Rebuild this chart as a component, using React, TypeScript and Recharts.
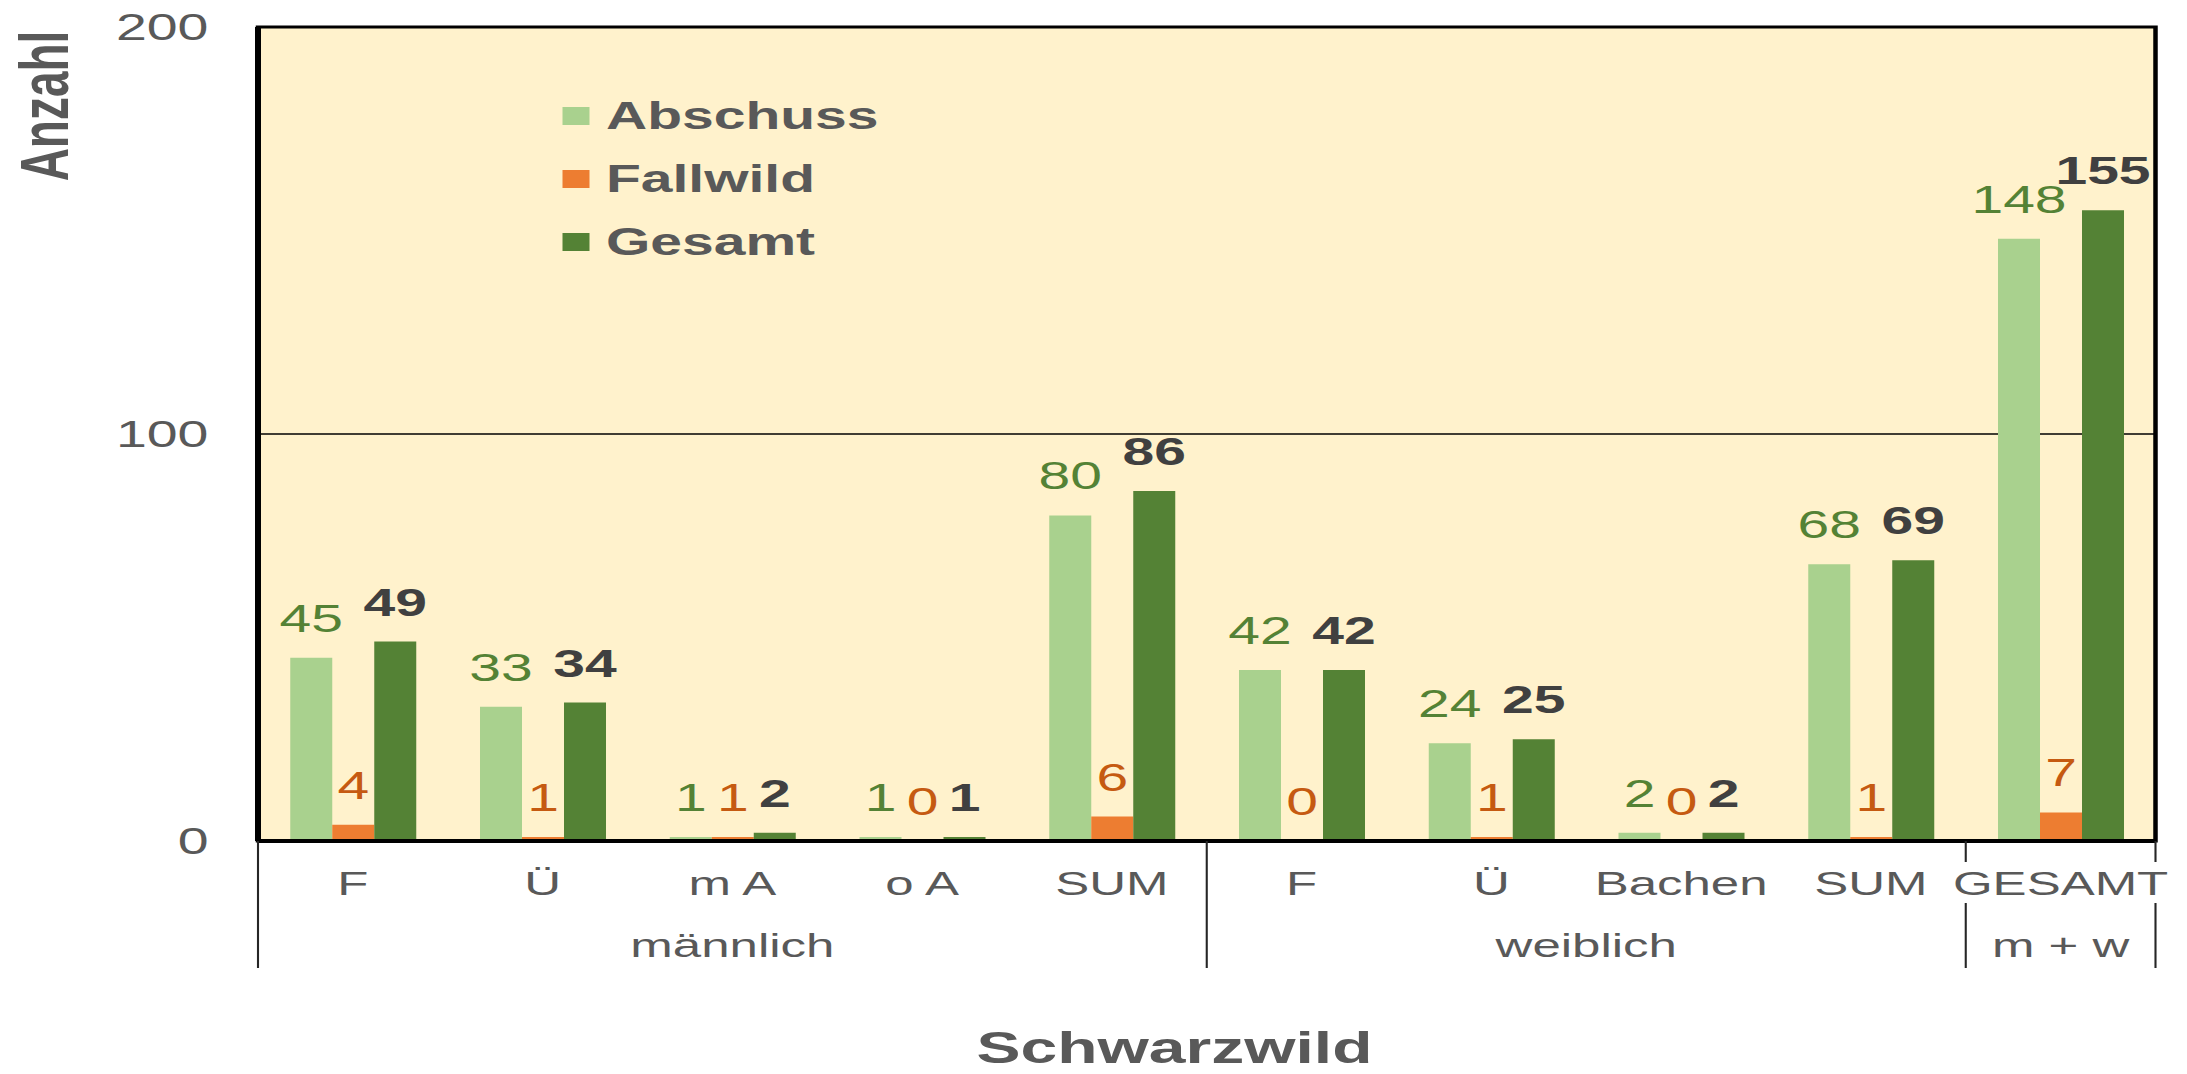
import React from 'react';
import { BarChart, Bar, XAxis, YAxis, CartesianGrid, ReferenceArea, LabelList, Legend, Label } from 'recharts';

const categories = ['F', 'Ü', 'm A', 'o A', 'SUM', 'F', 'Ü', 'Bachen', 'SUM', 'GESAMT'];
const abschuss = [45, 33, 1, 1, 80, 42, 24, 2, 68, 148];
const fallwild = [4, 1, 1, 0, 6, 0, 1, 0, 1, 7];
const gesamt = [49, 34, 2, 1, 86, 42, 25, 2, 69, 155];
const groupLabels = ['männlich', 'weiblich', 'm + w'];
const groupSizes = [5, 4, 1];
const yTicks = [0, 100, 200];
const seriesNames = ['Abschuss', 'Fallwild', 'Gesamt'];

const data = categories.map((c, i) => ({
  cat: c,
  abschuss: abschuss[i],
  fallwild: fallwild[i],
  gesamt: gesamt[i],
}));

const FONT = "'Liberation Sans', Arial, Helvetica, sans-serif";
const GREY = '#595959';
const STRETCH = 1.5;
const W = 1458;
const H = 1074;
const M = { top: 27, right: 21, left: 0, bottom: 0 };
const Y_AXIS_W = 172;
const X_AXIS_H = 233;
const PLOT_W = W - M.left - M.right - Y_AXIS_W;
const BAND = PLOT_W / categories.length;
const LABEL_OFFSET = 26;

const CatTick = (props: any) => {
  const { x, y, payload } = props;
  const i = payload.index;
  let start = 0;
  let gi = 0;
  while (gi < groupSizes.length - 1 && i >= start + groupSizes[gi]) {
    start += groupSizes[gi];
    gi++;
  }
  const size = groupSizes[gi];
  const elems: any[] = [];
  elems.push(
    <text key="c" x={x} y={y + 54} textAnchor="middle" fill={GREY} fontSize={34} fontFamily={FONT}>
      {payload.value}
    </text>
  );
  if (i === start) {
    const left = x - BAND / 2;
    const right = left + size * BAND;
    elems.push(
      <text key="g" x={(left + right) / 2} y={y + 116} textAnchor="middle" fill={GREY} fontSize={34} fontFamily={FONT}>
        {groupLabels[gi]}
      </text>
    );
    const segs = size === 1 ? [[0, 21], [62, 127]] : [[0, 127]];
    const xs = gi === groupSizes.length - 1 ? [left, right] : [left];
    xs.forEach((lx, a) =>
      segs.forEach((s, b) =>
        elems.push(<line key={`l${a}${b}`} x1={lx} x2={lx} y1={y + s[0]} y2={y + s[1]} stroke="#262626" strokeWidth={1.4} />)
      )
    );
  }
  return <g>{elems}</g>;
};

// Fallwild labels, placed from the neighbouring Gesamt bar geometry (so zero values get a label too)
const FallwildLabel = (props: any) => {
  const vb = props.viewBox || props;
  const idx = props.index;
  const bx = vb.x;
  const bw = vb.width;
  const by = vb.y;
  const bh = vb.height;
  if (bx == null || bw == null || idx == null) return null;
  const g = gesamt[idx];
  const f = fallwild[idx];
  const zero = by + bh;
  const perUnit = g > 0 ? bh / g : 0;
  const cx = bx - bw / 2;
  const ty = zero - f * perUnit - LABEL_OFFSET;
  return (
    <text x={cx} y={ty} textAnchor="middle" fill="#C55A11" fontSize={38} fontFamily={FONT}>
      {f}
    </text>
  );
};

const renderLegend = (props: any) => {
  const payload = props.payload || [];
  return (
    <div style={{ display: 'flex', flexDirection: 'column' }}>
      {payload.map((p: any, i: number) => (
        <div key={i} style={{ display: 'flex', alignItems: 'center', height: 63 }}>
          <div style={{ width: 18, height: 18, background: p.color, marginRight: 11 }} />
          <span style={{ fontFamily: FONT, fontWeight: 'bold', fontSize: 38, color: GREY, lineHeight: '38px' }}>{p.value}</span>
        </div>
      ))}
    </div>
  );
};

export default function App() {
  return (
    <div
      style={{
        position: 'absolute',
        left: 0,
        top: 0,
        width: W,
        height: H,
        transform: `scaleX(${STRETCH})`,
        transformOrigin: '0 0',
        background: '#fff',
      }}
    >
      <BarChart width={W} height={H} data={data} margin={M} barCategoryGap="17%" barGap={0}>
        <CartesianGrid fill="#FFF2CC" fillOpacity={1} vertical={false} stroke="#000" strokeWidth={1.3} />
        <XAxis
          dataKey="cat"
          height={X_AXIS_H}
          interval={0}
          tickSize={0}
          tickMargin={0}
          tickLine={false}
          axisLine={{ stroke: '#000', strokeWidth: 4 }}
          tick={<CatTick />}
        >
          <Label
            content={(p: any) => {
              const vb = p.viewBox || { x: 172, y: 841 };
              return (
                <text x={vb.x + 611} y={vb.y + 222} textAnchor="middle" fill={GREY} fontSize={44} fontWeight="bold" fontFamily={FONT}>
                  Schwarzwild
                </text>
              );
            }}
          />
        </XAxis>
        <YAxis
          domain={[0, 200]}
          ticks={yTicks}
          interval={0}
          width={Y_AXIS_W}
          tickSize={0}
          tickMargin={33}
          tickLine={false}
          axisLine={{ stroke: '#000', strokeWidth: 4 }}
          tick={{ fill: GREY, fontSize: 37, fontFamily: FONT }}
        >
          <Label
            content={(p: any) => {
              const vb = p.viewBox || { x: 0, y: 27 };
              const cx = vb.x + 29;
              const cy = vb.y + 79;
              return (
                <text
                  x={cx}
                  y={cy}
                  transform={`rotate(-90 ${cx} ${cy})`}
                  textAnchor="middle"
                  dominantBaseline="central"
                  fill={GREY}
                  fontSize={46}
                  fontWeight="bold"
                  fontFamily={FONT}
                >
                  Anzahl
                </text>
              );
            }}
          />
        </YAxis>
        <ReferenceArea y1={0} y2={200} fill="none" fillOpacity={0} stroke="#000" strokeWidth={3} ifOverflow="visible" />
        <Legend
          layout="vertical"
          align="center"
          verticalAlign="middle"
          content={renderLegend}
          wrapperStyle={{ position: 'absolute', left: 375, top: 84, width: 'auto' }}
        />
        <Bar dataKey="abschuss" name={seriesNames[0]} fill="#A9D18E" isAnimationActive={false}>
          <LabelList dataKey="abschuss" position="top" offset={LABEL_OFFSET} fill="#548235" fontSize={38} fontFamily={FONT} />
        </Bar>
        <Bar dataKey="fallwild" name={seriesNames[1]} fill="#ED7D31" isAnimationActive={false} />
        <Bar dataKey="gesamt" name={seriesNames[2]} fill="#548235" isAnimationActive={false}>
          <LabelList dataKey="gesamt" position="top" offset={LABEL_OFFSET} fill="#404040" fontSize={38} fontWeight="bold" fontFamily={FONT} />
          <LabelList dataKey="fallwild" content={<FallwildLabel />} />
        </Bar>
      </BarChart>
    </div>
  );
}
